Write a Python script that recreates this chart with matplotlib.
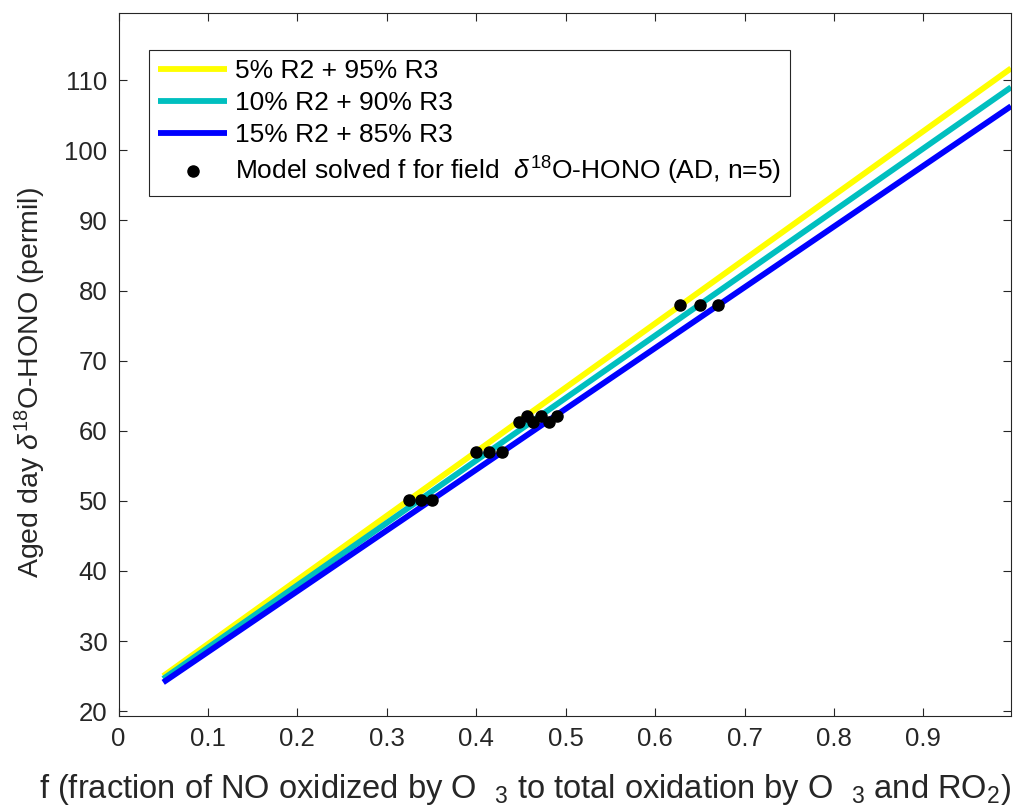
import matplotlib
matplotlib.use("Agg")
import matplotlib.pyplot as plt

plt.rcParams["font.family"] = ["Liberation Sans", "DejaVu Sans"]
plt.rcParams["mathtext.fontset"] = "custom"
plt.rcParams["mathtext.rm"] = "Liberation Sans"
plt.rcParams["mathtext.it"] = "Liberation Sans:italic"

# mixing lines (straight, endpoints)
f_line = [0.05, 0.998]
y_5pct = [25.0, 111.7]
y_10pct = [24.6, 109.0]
y_15pct = [24.1, 106.3]
line_labels = ["5% R2 + 95% R3", "10% R2 + 90% R3", "15% R2 + 85% R3"]
line_colors = ["#FFFF00", "#00BFBF", "#0000FF"]

# model-solved f for field d18O-HONO
dots_f = [0.325, 0.338, 0.350, 0.400, 0.414, 0.429, 0.448, 0.464, 0.481,
          0.457, 0.473, 0.490, 0.628, 0.650, 0.670]
dots_y = [50.1, 50.1, 50.1, 56.9, 56.9, 56.9, 61.3, 61.3, 61.3,
          62.1, 62.1, 62.1, 78.0, 78.0, 78.0]

xticks = [0, 0.1, 0.2, 0.3, 0.4, 0.5, 0.6, 0.7, 0.8, 0.9]
yticks = [20, 30, 40, 50, 60, 70, 80, 90, 100, 110]

INK = "#262626"

fig = plt.figure(figsize=(10.32, 8.08), dpi=100)
ax = fig.add_axes([118.5 / 1032, 1 - 716 / 808, (1011 - 118.5) / 1032, (716 - 13) / 808])

for ys, lab, col in zip([y_5pct, y_10pct, y_15pct], line_labels, line_colors):
    ax.plot(f_line, ys, color=col, lw=4.2, label=lab, solid_capstyle="butt")
ax.plot(dots_f, dots_y, "o", color="black", ms=8,
        label=r"Model solved f for field  $\delta^{\mathrm{18}}$O-HONO (AD, n=5)")

ax.set_xlim(0, 0.998)
ax.set_ylim(19.3, 119.6)
ax.set_xticks(xticks)
ax.set_xticklabels([f"{v:g}" for v in xticks])
ax.set_yticks(yticks)
ax.tick_params(direction="in", top=True, right=True, labelsize=18.5, colors=INK,
               length=6, width=0.8, pad=8)
for s in ax.spines.values():
    s.set_color(INK)
    s.set_linewidth(0.8)

ax.set_xlabel(r"f (fraction of NO oxidized by O  $_3$ to total oxidation by O  $_3$ and RO$_2$)",
              fontsize=23.5, color=INK)
ax.xaxis.set_label_coords(0.455, -0.079)
ax.set_ylabel(r"Aged day $\delta^{\mathrm{18}}$O-HONO (permil)", fontsize=20.5, color=INK)
ax.yaxis.set_label_coords(-0.079, 0.475)

leg = ax.legend(loc="upper left", bbox_to_anchor=(149 / 1032, 1 - 50 / 808),
                bbox_transform=fig.transFigure, fontsize=19, frameon=True, fancybox=False,
                edgecolor=INK, framealpha=1, borderaxespad=0, handlelength=2.6,
                handletextpad=0.3, labelspacing=0.3, borderpad=0.35)
leg.get_frame().set_linewidth(0.8)

fig.savefig("out.png", dpi=100)
